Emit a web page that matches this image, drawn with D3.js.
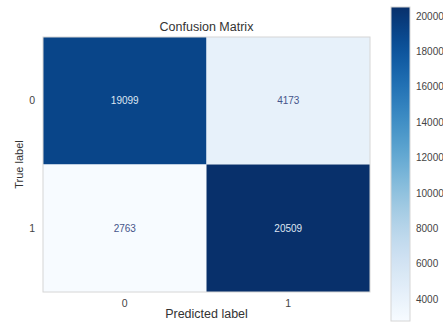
<!DOCTYPE html>
<html>
<head>
<meta charset="utf-8">
<script src="https://cdn.jsdelivr.net/npm/d3@7"></script>
<style>
  html, body { margin: 0; padding: 0; background: #fff; }
  svg { display: block; font-family: "Liberation Sans", Arial, Helvetica, sans-serif; }
</style>
</head>
<body>
<svg id="chart" width="443" height="323"></svg>
<script>
// Confusion matrix counts: rows = true label, columns = predicted label
const classes = ["0", "1"];
const counts = [
  [19099, 4173],
  [2763, 20509]
];
const colorbarTicks = [4000, 6000, 8000, 10000, 12000, 14000, 16000, 18000, 20000];

const svg = d3.select("#chart");
const m = { left: 43, right: 370, top: 37, bottom: 292 };

const flat = counts.flat();
const vmin = d3.min(flat), vmax = d3.max(flat);
const color = d3.scaleSequential(d3.interpolateBlues).domain([vmin, vmax]);

const x = d3.scaleBand().domain(classes).range([m.left, m.right]);
const y = d3.scaleBand().domain(classes).range([m.top, m.bottom]);

const cells = [];
counts.forEach((row, i) => row.forEach((v, j) => cells.push({ t: classes[i], p: classes[j], v })));

const g = svg.append("g");
g.selectAll("rect.cell").data(cells).enter().append("rect")
  .attr("class", "cell")
  .attr("x", d => x(d.p)).attr("y", d => y(d.t))
  .attr("width", x.bandwidth()).attr("height", y.bandwidth())
  .attr("fill", d => color(d.v));

// Outer frame
g.append("rect")
  .attr("x", m.left).attr("y", m.top)
  .attr("width", m.right - m.left).attr("height", m.bottom - m.top)
  .attr("fill", "none").attr("stroke", "#d6d6d6").attr("stroke-width", 1);

// Cell values
const thresh = (vmin + vmax) / 2;
g.selectAll("text.val").data(cells).enter().append("text")
  .attr("class", "val")
  .attr("x", d => x(d.p) + x.bandwidth() / 2)
  .attr("y", d => y(d.t) + y.bandwidth() / 2)
  .attr("text-anchor", "middle").attr("dominant-baseline", "central")
  .attr("font-size", 10)
  .attr("fill", d => d.v > thresh ? "#dfe6f2" : "#46558a")
  .text(d => d.v);

// Axes (labels only, no tick lines)
const xAxis = svg.append("g").attr("transform", `translate(0,${m.bottom})`)
  .call(d3.axisBottom(x).tickSize(0).tickPadding(8));
const yAxis = svg.append("g").attr("transform", `translate(${m.left},0)`)
  .call(d3.axisLeft(y).tickSize(0).tickPadding(8));
[xAxis, yAxis].forEach(a => {
  a.select(".domain").remove();
  a.selectAll("text").attr("font-size", 10.5).attr("fill", "#444")
    .attr("font-family", "Liberation Sans, Arial, sans-serif");
});

svg.append("text")
  .attr("x", (m.left + m.right) / 2).attr("y", 31)
  .attr("text-anchor", "middle").attr("font-size", 12.5).attr("fill", "#333")
  .text("Confusion Matrix");

svg.append("text")
  .attr("x", (m.left + m.right) / 2).attr("y", 318)
  .attr("text-anchor", "middle").attr("font-size", 12.5).attr("fill", "#333")
  .text("Predicted label");

svg.append("text")
  .attr("transform", `translate(23,${(m.top + m.bottom) / 2}) rotate(-90)`)
  .attr("text-anchor", "middle").attr("font-size", 11).attr("fill", "#333")
  .text("True label");

// Colorbar
const cb = { x: 391, w: 19, top: 7, bottom: 321 };
const cy = d3.scaleLinear().domain([vmin, vmax]).range([cb.bottom, cb.top]);
const defs = svg.append("defs");
const grad = defs.append("linearGradient").attr("id", "cbgrad")
  .attr("x1", 0).attr("y1", 1).attr("x2", 0).attr("y2", 0);
d3.range(0, 1.0001, 0.05).forEach(t => {
  grad.append("stop").attr("offset", t).attr("stop-color", d3.interpolateBlues(t));
});
svg.append("rect")
  .attr("x", cb.x).attr("y", cb.top).attr("width", cb.w).attr("height", cb.bottom - cb.top)
  .attr("fill", "url(#cbgrad)").attr("stroke", "#d6d6d6").attr("stroke-width", 1);

const cbAxis = svg.append("g").attr("transform", `translate(${cb.x + cb.w},0)`)
  .call(d3.axisRight(cy).tickValues(colorbarTicks).tickSize(0).tickPadding(6).tickFormat(d3.format("d")));
cbAxis.select(".domain").remove();
cbAxis.selectAll("text").attr("font-size", 10).attr("fill", "#444")
  .attr("font-family", "Liberation Sans, Arial, sans-serif");
</script>
</body>
</html>
